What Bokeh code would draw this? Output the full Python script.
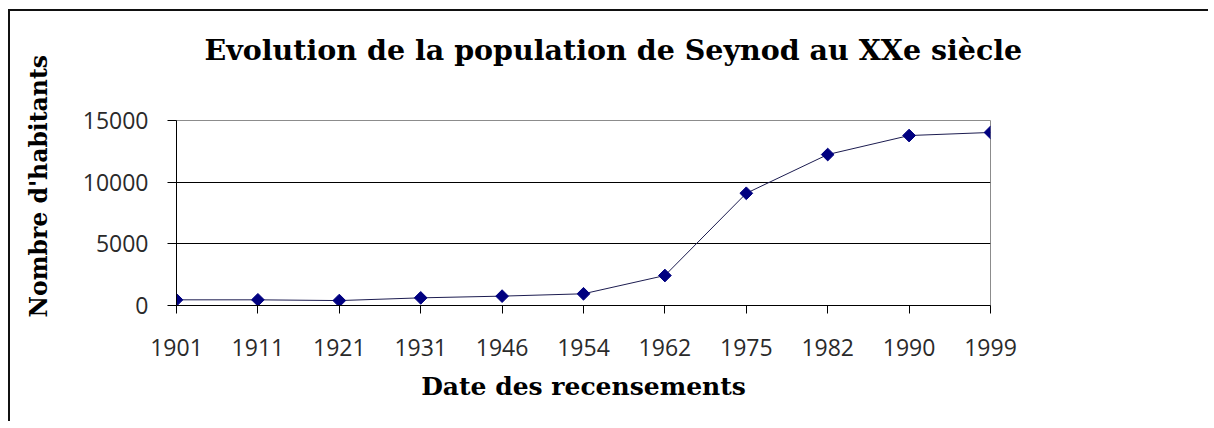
import math
from bokeh.plotting import figure
from bokeh.models import Range1d, FixedTicker, Title
from bokeh.embed import file_html
from bokeh.resources import INLINE

# ---- data ----
years = ["1901", "1911", "1921", "1931", "1946", "1954", "1962", "1975", "1982", "1990", "1999"]
population = [460, 460, 400, 620, 760, 950, 2430, 9100, 12240, 13780, 14030]
y_ticks = [0, 5000, 10000, 15000]
grid_values = [5000, 10000]
title_text = "Evolution de la population de Seynod au XXe siècle"
x_label = "Date des recensements"
y_label = "Nombre d'habitants"

idx = list(range(len(years)))

p = figure(
    width=1200, height=412,
    output_backend="svg", toolbar_location=None,
    x_range=Range1d(0, len(years) - 1), y_range=Range1d(0, 15000),
    min_border_left=166, min_border_right=220,
    min_border_top=109, min_border_bottom=118,
    background_fill_color="white", border_fill_color="white",
)
p.styles = {"margin-left": "8px", "margin-top": "9px",
            "border-top": "2px solid #111111", "border-left": "2px solid #111111"}

p.outline_line_color = "#8c8c8c"
p.outline_line_width = 1

# axes
p.xaxis.ticker = FixedTicker(ticks=idx)
p.xaxis.major_label_overrides = {i: y for i, y in enumerate(years)}
p.yaxis.ticker = FixedTicker(ticks=y_ticks)
for ax in (p.xaxis[0], p.yaxis[0]):
    ax.axis_line_color = "black"
    ax.axis_line_width = 1
    ax.major_tick_line_color = "black"
    ax.major_tick_in = 0
    ax.minor_tick_line_color = None
    ax.major_label_text_font = "Open Sans"
    ax.major_label_text_font_size = "23px"
    ax.major_label_text_color = "#2a2a2a"
p.xaxis.major_tick_out = 8
p.yaxis.major_tick_out = 9
p.xaxis.major_label_standoff = 25
p.yaxis.major_label_standoff = 19

p.xaxis.axis_label = x_label
p.xaxis.axis_label_text_font = "DejaVu Serif"
p.xaxis.axis_label_text_font_style = "bold"
p.xaxis.axis_label_text_font_size = "25px"
p.xaxis.axis_label_text_color = "black"
p.xaxis.axis_label_standoff = 13

# grid
p.xgrid.visible = False
p.ygrid.ticker = FixedTicker(ticks=grid_values)
p.ygrid.grid_line_color = "black"
p.ygrid.grid_line_width = 1

# series
p.line(idx, population, line_color="#1c1c50", line_width=1)
p.scatter(idx, population, marker="square", angle=math.pi / 4, size=9,
          fill_color="#000080", line_color="#000080")

# title (spacer keeps it high above the frame)
p.add_layout(Title(text=" ", text_font_size="1px", standoff=51), "above")
p.add_layout(Title(text=title_text, align="left", offset=28,
                   text_font="DejaVu Serif", text_font_style="bold",
                   text_font_size="28.5px", text_color="black", standoff=0), "above")

# y label as a left title (spacer between it and the axis)
p.add_layout(Title(text=" ", text_font_size="1px", standoff=24), "left")
p.add_layout(Title(text=y_label, align="left", offset=-12,
                   text_font="DejaVu Serif", text_font_style="bold",
                   text_font_size="23.5px", text_color="black", standoff=0), "left")

open("out.html", "w").write(file_html(p, INLINE))
